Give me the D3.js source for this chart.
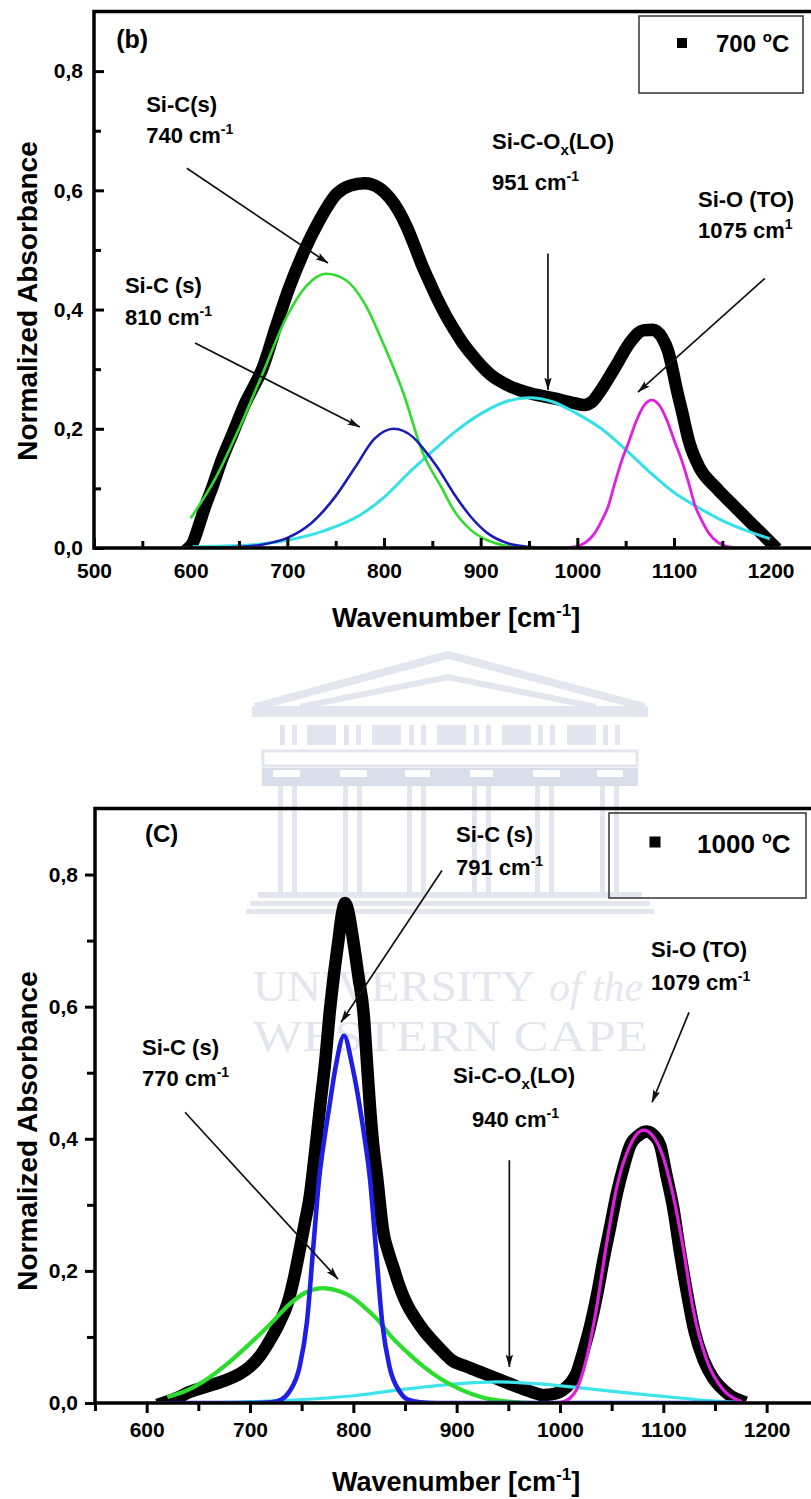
<!DOCTYPE html>
<html><head><meta charset="utf-8">
<script src="https://cdn.jsdelivr.net/npm/d3@7/dist/d3.min.js"></script>
<style>
body{margin:0;background:#fff}
svg{display:block;font-family:"Liberation Sans",Arial,Helvetica,sans-serif;font-weight:bold}
</style></head>
<body><svg id="c" width="811" height="1499"></svg>
<script>
// ---------------- DATA ----------------
const yTicks = [0, 0.2, 0.4, 0.6, 0.8];
const yMinor = [0.1, 0.3, 0.5, 0.7];
const topXTicks = [500, 600, 700, 800, 900, 1000, 1100, 1200];
const topXMinor = [550, 650, 750, 850, 950, 1050, 1150];
const botXTicks = [600, 700, 800, 900, 1000, 1100, 1200];
const botXMinor = [550, 650, 750, 850, 950, 1050, 1150];

// (b) 700 °C — measured spectrum
const exp700 = [[598,0],[602,0.008],[606,0.025],[610,0.045],[615,0.07],[622,0.10],[632,0.147],[643,0.19],[657,0.245],[665,0.27],[674,0.30],[688,0.37],[702,0.437],[716,0.493],[733,0.549],[751,0.594],[765,0.608],[780,0.612],[795,0.604],[806,0.587],[815,0.566],[824,0.537],[832,0.505],[840,0.472],[848,0.443],[856,0.415],[864,0.39],[872,0.368],[881,0.345],[890,0.326],[900,0.307],[910,0.291],[928,0.273],[952,0.259],[976,0.251],[997,0.243],[1007,0.24],[1015,0.245],[1022,0.259],[1039,0.303],[1056,0.348],[1068,0.365],[1078,0.366],[1088,0.352],[1094,0.33],[1098,0.303],[1103,0.265],[1108,0.231],[1116,0.176],[1126,0.136],[1143,0.102],[1163,0.069],[1184,0.035],[1202,0.006]];
// (b) fitted components
const fit700_SiC740 = [[600,0.05],[625,0.115],[650,0.2],[675,0.295],[700,0.39],[720,0.44],[740,0.46],[760,0.45],[780,0.41],[800,0.34],[820,0.26],[840,0.16],[860,0.1],[872,0.064],[890,0.03],[907,0.013],[930,0.003],[960,0],[1000,0],[1100,0],[1200,0]];
const fit700_SiC810 = [[600,0],[650,0.002],[675,0.006],[700,0.017],[725,0.042],[750,0.087],[770,0.135],[790,0.183],[810,0.2],[830,0.186],[840,0.168],[855,0.136],[872,0.092],[890,0.052],[907,0.025],[928,0.008],[950,0.002],[970,0],[1100,0],[1200,0]];
const fit700_SiCOx951 = [[600,0.002],[650,0.004],[700,0.013],[740,0.03],[775,0.055],[800,0.085],[825,0.125],[850,0.162],[875,0.197],[900,0.225],[925,0.245],[950,0.252],[975,0.245],[1000,0.225],[1025,0.2],[1050,0.165],[1075,0.127],[1100,0.093],[1125,0.068],[1150,0.046],[1175,0.029],[1200,0.015]];
const fit700_SiO1075 = [[600,0],[982,0],[997,0.002],[1009,0.01],[1018,0.025],[1025,0.045],[1032,0.07],[1039,0.11],[1046,0.147],[1053,0.177],[1061,0.213],[1069,0.239],[1077,0.248],[1085,0.239],[1093,0.213],[1101,0.177],[1108,0.147],[1115,0.11],[1122,0.07],[1129,0.045],[1136,0.025],[1145,0.01],[1157,0.002],[1172,0],[1200,0]];

// (C) 1000 °C — measured spectrum
const exp1000 = [[616,0],[630,0.008],[642,0.017],[658,0.025],[674,0.033],[690,0.044],[700,0.055],[710,0.072],[719,0.094],[728,0.12],[736,0.149],[742,0.185],[748,0.231],[753,0.272],[758,0.314],[763,0.38],[768,0.451],[773,0.52],[777,0.589],[781,0.645],[785.5,0.699],[789,0.74],[792,0.757],[795,0.745],[800,0.699],[805,0.645],[810,0.589],[813,0.52],[816,0.451],[819,0.395],[823,0.342],[829,0.259],[834,0.228],[839,0.204],[845,0.175],[852,0.149],[860,0.128],[868,0.11],[878,0.092],[887,0.077],[895,0.065],[910,0.055],[926,0.045],[942,0.035],[958,0.025],[972,0.017],[984,0.012],[995,0.014],[1003,0.02],[1010,0.03],[1016,0.045],[1022,0.075],[1029,0.115],[1036,0.165],[1042,0.216],[1049,0.27],[1055,0.317],[1062,0.36],[1068,0.39],[1076,0.405],[1084,0.411],[1091,0.405],[1097,0.39],[1103,0.345],[1110,0.292],[1116,0.23],[1123,0.166],[1130,0.11],[1139,0.065],[1148,0.038],[1158,0.02],[1166,0.01],[1174,0.004]];
// (C) fitted components
const fit1000_SiC770 = [[620,0.009],[640,0.02],[660,0.038],[680,0.062],[700,0.09],[720,0.12],[740,0.152],[755,0.168],[771,0.174],[785,0.17],[797,0.162],[810,0.146],[823,0.127],[837,0.1],[852,0.077],[868,0.055],[884,0.037],[903,0.021],[926,0.008],[950,0.002],[975,0],[1175,0]];
const fit1000_SiC791 = [[620,0],[700,0],[720,0.001],[730,0.005],[738,0.017],[748,0.055],[755,0.121],[761,0.231],[767,0.341],[772,0.4],[777,0.451],[783,0.51],[791,0.556],[799,0.51],[806,0.451],[811,0.4],[816,0.341],[822,0.231],[828,0.121],[835,0.055],[845,0.017],[853,0.005],[865,0.001],[880,0],[1175,0]];
const fit1000_SiCOx940 = [[620,0],[680,0.001],[700,0.002],[750,0.005],[800,0.011],[850,0.021],[900,0.029],[940,0.032],[980,0.029],[1020,0.023],[1060,0.016],[1100,0.01],[1140,0.004],[1175,0.001]];
const fit1000_SiO1079 = [[620,0],[995,0],[1003,0.002],[1010,0.008],[1016,0.02],[1025,0.063],[1035,0.14],[1045,0.24],[1055,0.327],[1067,0.387],[1081,0.413],[1096,0.388],[1109,0.318],[1119,0.237],[1129,0.141],[1142,0.065],[1158,0.02],[1171,0.005],[1176,0.002]];

// annotations (data coordinates)
const annTop = [
  {lines:[["Si-C(s)",554,0.731],["740 cm^{-1}",554,0.679]], from:[596,0.637], to:[742,0.478]},
  {lines:[["Si-C (s)",532,0.427],["810 cm^{-1}",532,0.374]], from:[604.5,0.344], to:[775,0.203]},
  {lines:[["Si-C-O_{x}(LO)",911.7,0.670],["951 cm^{-1}",911.7,0.600]], from:[969.6,0.494], to:[969.6,0.265]},
  {lines:[["Si-O (TO)",1124.8,0.5715],["1075 cm^{1}",1124.8,0.5195]], from:[1194,0.4525], to:[1062.7,0.2614]}
];
const annBot = [
  {lines:[["Si-C (s)",899.4,0.8486],["791 cm^{-1}",899.4,0.7987]], from:[885.8,0.8062], to:[788.1,0.5763]},
  {lines:[["Si-O (TO)",1088.1,0.6746],["1079 cm^{-1}",1088.1,0.6247]], from:[1124.9,0.5914], to:[1089.1,0.4553]},
  {lines:[["Si-C (s)",595.5,0.5264],["770 cm^{-1}",595.5,0.4795]], from:[637.1,0.4402], to:[785.2,0.1876]},
  {lines:[["Si-C-O_{x}(LO)",896.5,0.484],["940 cm^{-1}",914.8,0.4175]], from:[951,0.3676], to:[951,0.0545]}
];

// ---------------- DRAW ----------------
const svg = d3.select("#c");
const defs = svg.append("defs");
defs.append("marker").attr("id","ah").attr("viewBox","0 0 13 8").attr("refX",12.5).attr("refY",4)
  .attr("markerWidth",13).attr("markerHeight",8).attr("markerUnits","userSpaceOnUse").attr("orient","auto")
  .append("path").attr("d","M0,0.3 L13,4 L0,7.7 L2.5,4 Z").attr("fill","#111");

// watermark (behind everything)
(function watermark(){
  const g = svg.append("g");
  const c = "#e3e6ee", cd = "#d9deeb";
  g.append("path").attr("d","M255,707 L448,655 L645,707").attr("fill","none").attr("stroke",c).attr("stroke-width",8).attr("stroke-linejoin","miter");
  g.append("path").attr("d","M300,707 L448,677 L596,707").attr("fill","none").attr("stroke",c).attr("stroke-width",6);
  g.append("rect").attr("x",252).attr("y",706).attr("width",396).attr("height",11).attr("fill",c);
  [307,372,437,502,567].forEach(x=>g.append("rect").attr("x",x).attr("y",725).attr("width",29).attr("height",20).attr("fill",c));
  [280,344,409,474,538,603].forEach(x=>{
    g.append("rect").attr("x",x).attr("y",725).attr("width",5).attr("height",20).attr("fill",c);
    g.append("rect").attr("x",x+12).attr("y",725).attr("width",5).attr("height",20).attr("fill",c);
  });
  g.append("rect").attr("x",263).attr("y",751).attr("width",374).attr("height",15).attr("fill","none").attr("stroke",c).attr("stroke-width",3);
  g.append("rect").attr("x",262).attr("y",768).attr("width",376).attr("height",18).attr("fill",cd);
  [[273,300],[340,367],[405,430],[470,493],[533,560],[597,623]].forEach(p=>
    g.append("rect").attr("x",p[0]).attr("y",770).attr("width",p[1]-p[0]).attr("height",7).attr("fill","#fff"));
  [288,353,417,482,545,610].forEach(x=>{
    g.append("rect").attr("x",x-10).attr("y",786).attr("width",5).attr("height",106).attr("fill",c);
    g.append("rect").attr("x",x+4).attr("y",786).attr("width",5).attr("height",106).attr("fill",c);
  });
  g.append("rect").attr("x",258).attr("y",892).attr("width",384).attr("height",6).attr("fill",c);
  g.append("rect").attr("x",250).attr("y",901).attr("width",400).attr("height",5).attr("fill",c);
  g.append("rect").attr("x",246).attr("y",909).attr("width",408).attr("height",5).attr("fill",c);
  const serif = "'Liberation Serif','DejaVu Serif',serif";
  g.append("text").attr("x",253).attr("y",1001).attr("font-family",serif).attr("font-weight","normal")
    .attr("font-size",44).attr("textLength",282).attr("lengthAdjust","spacingAndGlyphs").attr("fill","#e4e6ed").text("UNIVERSITY");
  g.append("text").attr("x",549).attr("y",1001).attr("font-family",serif).attr("font-weight","normal")
    .attr("font-style","italic").attr("font-size",42).attr("textLength",94).attr("lengthAdjust","spacingAndGlyphs").attr("fill","#e6e8ee").text("of the");
  g.append("text").attr("x",253).attr("y",1051).attr("font-family",serif).attr("font-weight","normal")
    .attr("font-size",44).attr("textLength",395).attr("lengthAdjust","spacingAndGlyphs").attr("fill","#e4e6ed").text("WESTERN CAPE");
})();

function rich(sel, str, size){
  const parts = str.split(/(\^\{[^}]*\}|_\{[^}]*\})/).filter(s=>s.length);
  let shift = 0;
  parts.forEach(p=>{
    let t = p, s = 0, fs = size;
    if (p.startsWith("^{")) { t = p.slice(2,-1); s = -Math.round(size*0.40); fs = Math.round(size*0.62); }
    else if (p.startsWith("_{")) { t = p.slice(2,-1); s = Math.round(size*0.25); fs = Math.round(size*0.66); }
    sel.append("tspan").attr("dy", s - shift).attr("font-size", fs).text(t);
    shift = s;
  });
}

const fmt = v => d3.format(".1f")(v).replace(".", ",");

function panel(cfg){
  const {x, y, inward, exp, fits, ann, tag, legend, xTicks, xMinor, titleY, xTitleY, id} = cfg;
  const g = svg.append("g");
  const x0 = x.range()[0], x1 = x.range()[1], yb = y.range()[0], yt = y.range()[1];
  defs.append("clipPath").attr("id","clip"+id).append("rect")
    .attr("x",x0).attr("y",yt).attr("width",x1-x0).attr("height",yb-yt-1.5);
  const line = d3.line().x(d=>x(d[0])).y(d=>y(d[1])).curve(d3.curveMonotoneX);
  const plot = g.append("g").attr("clip-path","url(#clip"+id+")");
  plot.append("path").datum(exp).attr("d",line).attr("fill","none").attr("stroke","#000")
    .attr("stroke-width",12.5).attr("stroke-linejoin","round").attr("stroke-linecap","square");
  fits.forEach(f=>{
    plot.append("path").datum(f.data).attr("d",line).attr("fill","none").attr("stroke",f.color)
      .attr("stroke-width",f.w).attr("stroke-linejoin","round");
  });

  // axes
  const tIn = inward ? -10 : 10, tMin = inward ? -7 : 8;
  const ax = g.append("g").attr("transform",`translate(0,${yb})`)
    .call(d3.axisBottom(x).tickValues(xTicks).tickFormat(d3.format("d")).tickSizeInner(tIn).tickSizeOuter(0).tickPadding(inward?15:9));
  const axm = g.append("g").attr("transform",`translate(0,${yb})`)
    .call(d3.axisBottom(x).tickValues(xMinor).tickFormat("").tickSizeInner(tMin).tickSizeOuter(0));
  const ay = g.append("g").attr("transform",`translate(${x0},0)`)
    .call(d3.axisLeft(y).tickValues(yTicks).tickFormat(fmt).tickSizeInner(tIn).tickSizeOuter(0).tickPadding(inward?11:7));
  const aym = g.append("g").attr("transform",`translate(${x0},0)`)
    .call(d3.axisLeft(y).tickValues(yMinor).tickFormat("").tickSizeInner(tMin).tickSizeOuter(0));
  [ax,axm,ay,aym].forEach(a=>{
    a.attr("font-family",null).attr("font-size",null);
    a.select(".domain").remove();
    a.selectAll(".tick line").attr("stroke","#000").attr("stroke-width",3);
    a.selectAll(".tick text").attr("font-size",21).attr("font-weight","bold").attr("fill","#000");
  });
  // frame
  g.append("path").attr("d",`M${x0},${yb} L${x1},${yb} L${x1},${yt} L${x0},${yt} Z`)
    .attr("fill","none").attr("stroke","#000").attr("stroke-width",3.5).attr("stroke-linejoin","miter");

  // axis titles
  g.append("text").attr("transform",`translate(37,${titleY}) rotate(-90)`).attr("text-anchor","middle")
    .attr("font-size",28).text("Normalized Absorbance");
  const xt = g.append("text").attr("x",332).attr("y",xTitleY).attr("font-size",27);
  rich(xt, "Wavenumber [cm^{-1}]", 27);

  // tag
  g.append("text").attr("x",x(tag.x)).attr("y",y(tag.y)).attr("font-size",tag.size).text(tag.t);

  // annotations
  ann.forEach(a=>{
    a.lines.forEach(l=>{
      const t = g.append("text").attr("x",x(l[1])).attr("y",y(l[2])).attr("font-size",22);
      rich(t, l[0], 22);
    });
    g.append("line").attr("x1",x(a.from[0])).attr("y1",y(a.from[1])).attr("x2",x(a.to[0])).attr("y2",y(a.to[1]))
      .attr("stroke","#111").attr("stroke-width",1.7).attr("marker-end","url(#ah)");
  });

  // legend
  const L = legend;
  g.append("rect").attr("x",L.x).attr("y",L.y).attr("width",L.w).attr("height",L.h)
    .attr("fill","none").attr("stroke","#333").attr("stroke-width",1.5);
  g.append("rect").attr("x",L.mx-L.ms/2).attr("y",L.my-L.ms/2).attr("width",L.ms).attr("height",L.ms).attr("fill","#000");
  const lt = g.append("text").attr("x",L.tx).attr("y",L.ty).attr("font-size",L.fs);
  rich(lt, L.label, L.fs);
}

panel({
  id:"t",
  x: d3.scaleLinear([500,1250],[94,819]),
  y: d3.scaleLinear([0,0.9],[548,11.5]),
  inward:true, exp:exp700,
  fits:[
    {data:fit700_SiCOx951, color:"#35e0e6", w:3},
    {data:fit700_SiC740, color:"#2ddc2d", w:2.6},
    {data:fit700_SiC810, color:"#1c1cb8", w:2.6},
    {data:fit700_SiO1075, color:"#e01fe0", w:2.8}
  ],
  ann:annTop, tag:{t:"(b)", x:523, y:0.8396, size:25},
  xTicks:topXTicks, xMinor:topXMinor, titleY:301, xTitleY:627,
  legend:{x:639,y:16,w:164,h:77,mx:682,my:43,ms:10,tx:716,ty:52,fs:24,label:"700 ^{o}C"}
});
panel({
  id:"b",
  x: d3.scaleLinear([550,1250],[95,818.3]),
  y: d3.scaleLinear([0,0.9],[1403,808.5]),
  inward:false, exp:exp1000,
  fits:[
    {data:fit1000_SiCOx940, color:"#3ee4ea", w:3.2},
    {data:fit1000_SiC770, color:"#2ddc2d", w:4.2},
    {data:fit1000_SiC791, color:"#1e1ee6", w:4.6},
    {data:fit1000_SiO1079, color:"#e01fe0", w:3.2}
  ],
  ann:annBot, tag:{t:"(C)", x:598.3, y:0.8486, size:24},
  xTicks:botXTicks, xMinor:botXMinor, titleY:1131, xTitleY:1491,
  legend:{x:609,y:813,w:197,h:85,mx:655,my:842,ms:11,tx:697,ty:853,fs:26,label:"1000 ^{o}C"}
});
</script></body></html>
